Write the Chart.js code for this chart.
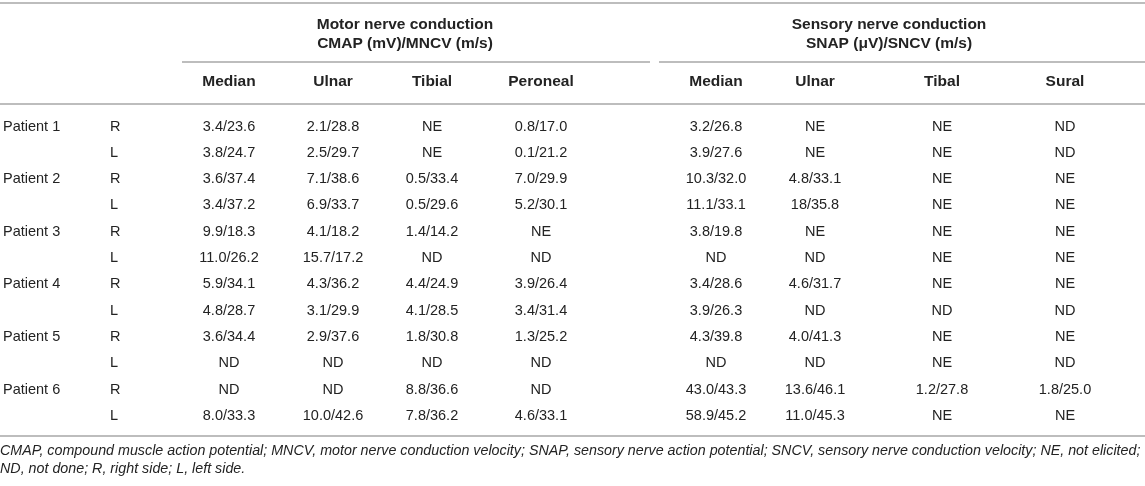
<!DOCTYPE html>
<html>
<head>
<meta charset="utf-8">
<script src="https://cdn.jsdelivr.net/npm/chart.js@4.4.1/dist/chart.umd.min.js"></script>
<style>
  html, body { margin: 0; padding: 0; background: #fff; }
  #tableChart { display: block; }
</style>
</head>
<body>
<canvas id="tableChart" width="1145" height="486"></canvas>
<script>
//--------- Table data ***************************************************
var patientNames = ['Patient 1', '', 'Patient 2', '', 'Patient 3', '', 'Patient 4', '', 'Patient 5', '', 'Patient 6', ''];
var sides = ['R', 'L', 'R', 'L', 'R', 'L', 'R', 'L', 'R', 'L', 'R', 'L'];

var groupTitles = [
        ['Motor nerve conduction', 'CMAP (mV)/MNCV (m/s)'],
        ['Sensory nerve conduction', 'SNAP (\u03bcV)/SNCV (m/s)']
];
var columnHeaders = ['Median', 'Ulnar', 'Tibial', 'Peroneal', 'Median', 'Ulnar', 'Tibal', 'Sural'];

// Motor nerve conduction CMAP/MNCV
var motorMedian   = ['3.4/23.6', '3.8/24.7', '3.6/37.4', '3.4/37.2', '9.9/18.3', '11.0/26.2', '5.9/34.1', '4.8/28.7', '3.6/34.4', 'ND', 'ND', '8.0/33.3'];
var motorUlnar    = ['2.1/28.8', '2.5/29.7', '7.1/38.6', '6.9/33.7', '4.1/18.2', '15.7/17.2', '4.3/36.2', '3.1/29.9', '2.9/37.6', 'ND', 'ND', '10.0/42.6'];
var motorTibial   = ['NE', 'NE', '0.5/33.4', '0.5/29.6', '1.4/14.2', 'ND', '4.4/24.9', '4.1/28.5', '1.8/30.8', 'ND', '8.8/36.6', '7.8/36.2'];
var motorPeroneal = ['0.8/17.0', '0.1/21.2', '7.0/29.9', '5.2/30.1', 'NE', 'ND', '3.9/26.4', '3.4/31.4', '1.3/25.2', 'ND', 'ND', '4.6/33.1'];

// Sensory nerve conduction SNAP/SNCV
var sensoryMedian = ['3.2/26.8', '3.9/27.6', '10.3/32.0', '11.1/33.1', '3.8/19.8', 'ND', '3.4/28.6', '3.9/26.3', '4.3/39.8', 'ND', '43.0/43.3', '58.9/45.2'];
var sensoryUlnar  = ['NE', 'NE', '4.8/33.1', '18/35.8', 'NE', 'ND', '4.6/31.7', 'ND', '4.0/41.3', 'ND', '13.6/46.1', '11.0/45.3'];
var sensoryTibal  = ['NE', 'NE', 'NE', 'NE', 'NE', 'NE', 'NE', 'ND', 'NE', 'NE', '1.2/27.8', 'NE'];
var sensorySural  = ['ND', 'ND', 'NE', 'NE', 'NE', 'NE', 'NE', 'ND', 'NE', 'ND', '1.8/25.0', 'NE'];

var footnoteLines = [
        'CMAP, compound muscle action potential; MNCV, motor nerve conduction velocity; SNAP, sensory nerve action potential; SNCV, sensory nerve conduction velocity; NE, not elicited;',
        'ND, not done; R, right side; L, left side.'
];

//--------- Layout ***************************************************
// x positions are on a 0..1145 linear scale, rows use a row-index y scale
var rowTop = 126.5, rowStep = 26.3, canvasH = 486;
function toRow(px) { return (px - rowTop) / rowStep; }

var columns = [
        { texts: patientNames,  x: 3,    align: 'left' },
        { texts: sides,         x: 110,  align: 'left' },
        { texts: motorMedian,   x: 229,  align: 'center' },
        { texts: motorUlnar,    x: 333,  align: 'center' },
        { texts: motorTibial,   x: 432,  align: 'center' },
        { texts: motorPeroneal, x: 541,  align: 'center' },
        { texts: sensoryMedian, x: 716,  align: 'center' },
        { texts: sensoryUlnar,  x: 815,  align: 'center' },
        { texts: sensoryTibal,  x: 942,  align: 'center' },
        { texts: sensorySural,  x: 1065, align: 'center' }
];
var groupX = [405, 889];
var groupRowY = [toRow(24.5), toRow(43.5)];
var headerRowY = toRow(82);
var rules = [
        { y: toRow(3),     from: 0,   to: 1145 },
        { y: toRow(61.5),  from: 182, to: 650 },
        { y: toRow(61.5),  from: 659, to: 1145 },
        { y: toRow(104),   from: 0,   to: 1145 },
        { y: toRow(436.5), from: 0,   to: 1145 }
];
var footnoteY = [toRow(451), toRow(469)];

var textColor = '#232323';
var ruleColor = '#bdbdbd';
var fontFamily = '"Liberation Sans", Arial, Helvetica, sans-serif';

// One invisible scatter dataset per column, each cell is a point
var tableDatasets = columns.map(function (col) {
        return {
                data: col.texts.map(function (t, i) { return { x: col.x, y: i }; }),
                texts: col.texts,
                textAlign: col.align,
                pointRadius: 0,
                pointHoverRadius: 0,
                showLine: false
        };
});

// Plugin that writes the cell texts, headers and rules
var tablePlugin = {
        id: 'tableText',
        afterDatasetsDraw: function (chart) {
                var ctx = chart.ctx;
                var xs = chart.scales.x;
                var ys = chart.scales.y;
                ctx.save();
                ctx.textBaseline = 'middle';

                // rules
                ctx.strokeStyle = ruleColor;
                ctx.lineWidth = 2;
                rules.forEach(function (r) {
                        var y = Math.round(ys.getPixelForValue(r.y));
                        ctx.beginPath();
                        ctx.moveTo(xs.getPixelForValue(r.from), y);
                        ctx.lineTo(xs.getPixelForValue(r.to), y);
                        ctx.stroke();
                });

                ctx.fillStyle = textColor;

                // group titles
                ctx.font = 'bold 15.5px ' + fontFamily;
                ctx.textAlign = 'center';
                groupTitles.forEach(function (lines, g) {
                        lines.forEach(function (line, k) {
                                ctx.fillText(line, xs.getPixelForValue(groupX[g]), ys.getPixelForValue(groupRowY[k]));
                        });
                });

                // column headers
                columnHeaders.forEach(function (h, c) {
                        ctx.fillText(h, xs.getPixelForValue(columns[c + 2].x), ys.getPixelForValue(headerRowY));
                });

                // cells
                ctx.font = '14.5px ' + fontFamily;
                chart.data.datasets.forEach(function (ds, d) {
                        var meta = chart.getDatasetMeta(d);
                        ctx.textAlign = ds.textAlign;
                        meta.data.forEach(function (pt, i) {
                                ctx.fillText(ds.texts[i], pt.x, pt.y);
                        });
                });

                // footnote, sized so the first line spans the table width
                ctx.font = 'italic 100px ' + fontFamily;
                var size = 100 * (xs.getPixelForValue(1141) - xs.getPixelForValue(0)) / ctx.measureText(footnoteLines[0]).width;
                ctx.font = 'italic ' + size.toFixed(2) + 'px ' + fontFamily;
                ctx.textAlign = 'left';
                footnoteLines.forEach(function (line, k) {
                        ctx.fillText(line, xs.getPixelForValue(0), ys.getPixelForValue(footnoteY[k]));
                });
                ctx.restore();
        }
};

var tableConfig = {
        type: 'scatter',
        data: { datasets: tableDatasets },
        options: {
                responsive: false,
                animation: false,
                events: [],
                layout: { padding: 0 },
                plugins: {
                        legend: { display: false },
                        tooltip: { enabled: false }
                },
                scales: {
                        x: { type: 'linear', min: 0, max: 1145, display: false },
                        y: { type: 'linear', min: toRow(0), max: toRow(canvasH), reverse: true, display: false }
                }
        },
        plugins: [tablePlugin]
};

var ctx = document.getElementById('tableChart').getContext('2d');
var tableChart = new Chart(ctx, tableConfig);
</script>
</body>
</html>
